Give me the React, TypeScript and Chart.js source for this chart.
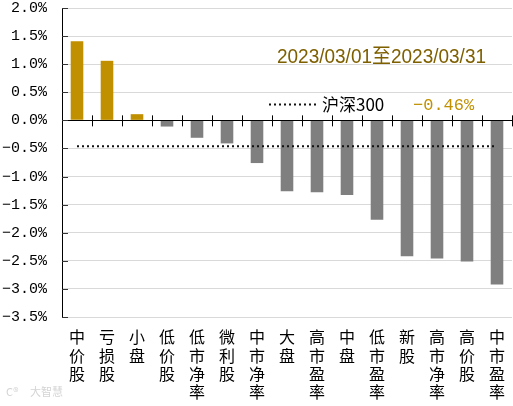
import { useEffect, useRef } from "react";
import { Chart, registerables } from "chart.js";

Chart.register(...registerables);

// Style-index returns for the period
const categories = [
  "中价股", "亏损股", "小盘", "低价股", "低市净率", "微利股", "中市净率", "大盘",
  "高市盈率", "中盘", "低市盈率", "新股", "高市净率", "高价股", "中市盈率",
];
const returns = [
  1.41, 1.06, 0.11, -0.11, -0.31, -0.41, -0.76, -1.26,
  -1.28, -1.33, -1.77, -2.42, -2.46, -2.51, -2.92,
];
const benchmarkName = "沪深300";
const benchmarkReturn = -0.46;
const periodLabel = "2023/03/01至2023/03/31";
const yMin = -3.5;
const yMax = 2.0;
const yStep = 0.5;

const GOLD = "#C09000";
const GRAY = "#7F7F7F";
const DOT_DASH = [2, 3];

const fmtPct = (v: number) => (v < 0 ? "\u2212" : "") + Math.abs(v).toFixed(1) + "%";
const fmtPct2 = (v: number) => (v < 0 ? "\u2212" : "") + Math.abs(v).toFixed(2) + "%";

const overlayPlugin = {
  id: "overlay",
  afterDatasetsDraw(chart: any) {
    const { ctx, chartArea, scales } = chart;
    const x = scales.x;
    const y = scales.y;
    const y0 = y.getPixelForValue(0);
    ctx.save();

    // zero axis with category boundary ticks
    ctx.strokeStyle = "#000";
    ctx.lineWidth = 1;
    ctx.beginPath();
    ctx.moveTo(chartArea.left, Math.round(y0) + 0.5);
    ctx.lineTo(chartArea.right, Math.round(y0) + 0.5);
    for (let i = 1; i <= categories.length; i++) {
      const bx = Math.round((x.getPixelForValue(i - 1) + x.getPixelForValue(i)) / 2) + 0.5;
      ctx.moveTo(bx, y0 - 5);
      ctx.lineTo(bx, y0 + 6);
    }
    ctx.stroke();

    // inner ticks on the value axis
    ctx.strokeStyle = "#333";
    ctx.beginPath();
    for (const t of y.ticks) {
      const ty = Math.round(y.getPixelForValue(t.value)) + 0.5;
      ctx.moveTo(chartArea.left, ty);
      ctx.lineTo(chartArea.left + 6, ty);
    }
    ctx.stroke();

    // period caption
    ctx.fillStyle = "#7F6000";
    ctx.font = '20px "Liberation Sans", "Noto Sans CJK SC", sans-serif';
    ctx.textBaseline = "middle";
    ctx.textAlign = "left";
    ctx.fillText(periodLabel, 277, 57, 209);

    // benchmark legend
    const ly = 104.5;
    ctx.strokeStyle = "#111";
    ctx.lineWidth = 2;
    ctx.setLineDash(DOT_DASH);
    ctx.beginPath();
    ctx.moveTo(269, ly);
    ctx.lineTo(316, ly);
    ctx.stroke();
    ctx.setLineDash([]);
    ctx.fillStyle = "#000";
    ctx.font = '17px "Noto Sans CJK SC", sans-serif';
    ctx.fillText(benchmarkName, 322, 105);
    ctx.fillStyle = GOLD;
    ctx.font = '17px "Liberation Mono", monospace';
    ctx.fillText(fmtPct2(benchmarkReturn), 413, 105);

    // watermark
    ctx.fillStyle = "#d4d4d4";
    ctx.font = '11px "Noto Sans CJK SC", sans-serif';
    ctx.fillText("C\u00ae", 6, 392);
    ctx.fillText("大智慧", 30, 392);

    ctx.restore();
  },
};

export default function App() {
  const ref = useRef<HTMLCanvasElement | null>(null);

  useEffect(() => {
    if (!ref.current) return;
    const chart = new Chart(ref.current, {
      type: "bar",
      data: {
        labels: categories.map((c) => c.split("")),
        datasets: [
          {
            type: "line",
            label: benchmarkName,
            data: categories.map(() => benchmarkReturn),
            borderColor: "#111",
            borderWidth: 2,
            borderDash: DOT_DASH,
            pointRadius: 0,
            fill: false,
            order: 0,
          } as any,
          {
            type: "bar",
            label: "区间涨跌幅",
            data: returns,
            backgroundColor: returns.map((v) => (v >= 0 ? GOLD : GRAY)),
            borderWidth: 0,
            categoryPercentage: 1,
            barPercentage: 0.42,
            order: 1,
          },
        ],
      },
      options: {
        responsive: false,
        animation: false,
        layout: { padding: { top: 8, right: 1, left: 0, bottom: 0 } },
        plugins: { legend: { display: false }, tooltip: { enabled: false } },
        scales: {
          x: {
            grid: { display: false },
            border: { display: false },
            ticks: {
              autoSkip: false,
              maxRotation: 0,
              minRotation: 0,
              padding: 3,
              color: "#000",
              font: { family: '"Noto Sans CJK SC", sans-serif', size: 16, lineHeight: 1.15 },
            },
            afterFit: (s: any) => {
              s.height = 89;
              s.paddingLeft = 0;
              s.paddingRight = 0;
            },
          },
          y: {
            min: yMin,
            max: yMax,
            ticks: {
              stepSize: yStep,
              padding: 15,
              color: "#000",
              font: { family: '"Liberation Mono", monospace', size: 15 },
              callback: (v: any) => fmtPct(Number(v)),
            },
            grid: { color: "#d9d9d9", lineWidth: 1, drawTicks: false },
            border: { display: true, color: "#000", width: 1 },
            afterFit: (s: any) => {
              s.width = 62;
              s.paddingTop = 0;
              s.paddingBottom = 0;
            },
          },
        },
      },
      plugins: [overlayPlugin],
    });
    return () => chart.destroy();
  }, []);

  return (
    <div style={{ position: "fixed", left: 0, top: 0, width: 513, height: 406, background: "#fff" }}>
      <canvas ref={ref} width={513} height={406} />
    </div>
  );
}
